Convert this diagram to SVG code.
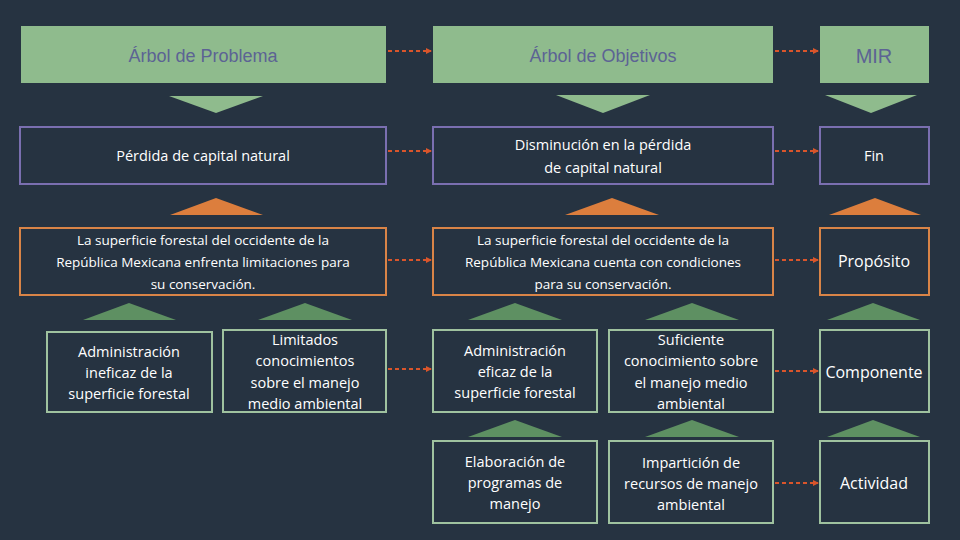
<svg xmlns="http://www.w3.org/2000/svg" width="960" height="540" viewBox="0 0 960 540">
<defs>
<marker id="ah" markerWidth="6" markerHeight="6" refX="5" refY="3" orient="auto" markerUnits="userSpaceOnUse"><path d="M0,0 L6,3 L0,6 z" fill="#d9552b"/></marker>
<style>
.hd{fill:#8fbb8d}
.ht{font-family:"Liberation Sans",Arial,sans-serif;font-size:18px;fill:#5c6394;text-anchor:middle}
.bx{fill:#263341;stroke-width:2}
.pu{stroke:#7a6fb0}.or{stroke:#d98447}.gr{stroke:#9fc29f}
.t{font-family:"Open Sans","Liberation Sans",sans-serif;font-size:14.5px;fill:#ffffff;text-anchor:middle}
.tr{fill:#8fbb8d}.to{fill:#dc7e3d}.tg{fill:#5e9062}
.c{stroke:#d9552b;stroke-width:2;stroke-dasharray:4,3;fill:none;marker-end:url(#ah)}
</style>
</defs>
<rect width="960" height="540" fill="#263341"/>
<g id="headers">
<g id="h1"><rect class="hd" x="21" y="26" width="365" height="57"/><text class="ht" x="203" y="62">Árbol de Problema</text></g>
<g id="h2"><rect class="hd" x="433" y="26" width="340" height="57"/><text class="ht" x="603" y="62">Árbol de Objetivos</text></g>
<g id="h3"><rect class="hd" x="820" y="26" width="109" height="57"/><text class="ht" x="874" y="63" style="font-size:20px">MIR</text></g>
</g>
<g id="triangles">
<polygon class="tr" points="169,96 263,96 216,113"/>
<polygon class="tr" points="556,95 650,95 603,113"/>
<polygon class="tr" points="825,95 917,95 871,113"/>
<polygon class="to" points="170,215 263,215 216,198"/>
<polygon class="to" points="565,215 659,215 612,198"/>
<polygon class="to" points="829,215 921,215 875,198"/>
<polygon class="tg" points="83,320 176,320 129,303"/>
<polygon class="tg" points="258,320 352,320 305,303"/>
<polygon class="tg" points="468,320 562,320 515,303"/>
<polygon class="tg" points="645,320 739,320 692,303"/>
<polygon class="tg" points="827,320 920,320 873,303"/>
<polygon class="tg" points="468,437 562,437 515,420"/>
<polygon class="tg" points="645,437 739,437 692,420"/>
<polygon class="tg" points="827,437 920,437 873,420"/>
</g>
<g id="n-fin-p"><rect class="bx pu" x="20" y="127" width="366" height="57"/><text class="t" x="203" y="161">Pérdida de capital natural</text></g>
<g id="n-fin-o"><rect class="bx pu" x="433" y="127" width="340" height="57"/><text class="t" x="603" y="150">Disminución en la pérdida</text><text class="t" x="603" y="173">de capital natural</text></g>
<g id="n-fin"><rect class="bx pu" x="820" y="127" width="109" height="57"/><text class="t" x="874" y="161">Fin</text></g>
<g id="n-pro-p"><rect class="bx or" x="20" y="228" width="366" height="67"/><text class="t" x="203" y="245" style="font-size:13.5px">La superficie forestal del occidente de la</text><text class="t" x="203" y="267" style="font-size:13.5px">República Mexicana enfrenta limitaciones  para</text><text class="t" x="203" y="289" style="font-size:13.5px">su conservación.</text></g>
<g id="n-pro-o"><rect class="bx or" x="433" y="228" width="340" height="67"/><text class="t" x="603" y="245" style="font-size:13.5px">La superficie forestal del occidente de la</text><text class="t" x="603" y="267" style="font-size:13.5px">República Mexicana cuenta con condiciones</text><text class="t" x="603" y="289" style="font-size:13.5px">para su conservación.</text></g>
<g id="n-pro"><rect class="bx or" x="820" y="228" width="109" height="67"/><text class="t" x="874" y="267" style="font-size:16px">Propósito</text></g>
<g id="n-c1p"><rect class="bx gr" x="47" y="332" width="165" height="80"/><text class="t" x="129" y="357">Administración</text><text class="t" x="129" y="378">ineficaz de la</text><text class="t" x="129" y="399">superficie forestal</text></g>
<g id="n-c2p"><rect class="bx gr" x="223" y="330" width="163" height="82"/><text class="t" x="305" y="345">Limitados</text><text class="t" x="305" y="366">conocimientos</text><text class="t" x="305" y="388">sobre el manejo</text><text class="t" x="305" y="409">medio ambiental</text></g>
<g id="n-c1o"><rect class="bx gr" x="433" y="330" width="164" height="82"/><text class="t" x="515" y="356">Administración</text><text class="t" x="515" y="377">eficaz de la</text><text class="t" x="515" y="398">superficie forestal</text></g>
<g id="n-c2o"><rect class="bx gr" x="609" y="330" width="164" height="82"/><text class="t" x="691" y="345">Suficiente</text><text class="t" x="691" y="366">conocimiento sobre</text><text class="t" x="691" y="388">el manejo medio</text><text class="t" x="691" y="409">ambiental</text></g>
<g id="n-comp"><rect class="bx gr" x="820" y="330" width="109" height="82"/><text class="t" x="874" y="378" style="font-size:16px">Componente</text></g>
<g id="n-a1"><rect class="bx gr" x="433" y="441" width="164" height="82"/><text class="t" x="515" y="467">Elaboración de</text><text class="t" x="515" y="488">programas de</text><text class="t" x="515" y="509">manejo</text></g>
<g id="n-a2"><rect class="bx gr" x="609" y="441" width="164" height="82"/><text class="t" x="691" y="468">Impartición de</text><text class="t" x="691" y="489">recursos de manejo</text><text class="t" x="691" y="510">ambiental</text></g>
<g id="n-act"><rect class="bx gr" x="820" y="441" width="109" height="82"/><text class="t" x="874" y="489" style="font-size:16px">Actividad</text></g>
<g id="connectors">
<path class="c" d="M388,51 H431"/>
<path class="c" d="M775,51 H818"/>
<path class="c" d="M388,151 H431"/>
<path class="c" d="M775,151 H818"/>
<path class="c" d="M388,260 H431"/>
<path class="c" d="M775,260 H818"/>
<path class="c" d="M388,369 H431"/>
<path class="c" d="M775,371 H818"/>
<path class="c" d="M775,483 H818"/>
</g>
</svg>
